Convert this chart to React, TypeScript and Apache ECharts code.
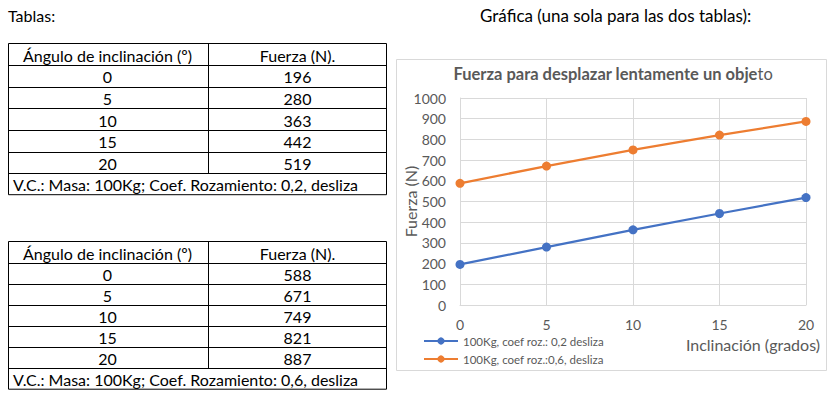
import React, { useEffect, useRef } from "react";
import * as echarts from "echarts";

const angles = [0, 5, 10, 15, 20];
const fuerza02 = [196, 280, 363, 442, 519];
const fuerza06 = [588, 671, 749, 821, 887];
const seriesNames = ["100Kg, coef roz.: 0,2 desliza", "100Kg, coef roz.:0,6, desliza"];
const tableHeader = ["Ángulo de inclinación (º)", "Fuerza (N)."];
const footer02 = "V.C.: Masa: 100Kg; Coef. Rozamiento: 0,2, desliza";
const footer06 = "V.C.: Masa: 100Kg; Coef. Rozamiento: 0,6, desliza";

const FONT = "Lato, 'Open Sans', sans-serif";
const GRAY = "#595959";

function buildTable(top: number, rowH: number, values: number[], footer: string) {
  const left = 8.5, right = 386.5, mid = 208.5;
  const nRows = values.length + 2;
  const bottom = top + rowH * nRows;
  const els: any[] = [];
  els.push({
    type: "rect",
    shape: { x: left, y: top, width: right - left, height: bottom - top },
    style: { fill: "none", stroke: "#000", lineWidth: 1 },
  });
  for (let i = 1; i < nRows; i++) {
    const y = Math.round(top + rowH * i) + 0.5;
    els.push({ type: "line", shape: { x1: left, y1: y, x2: right, y2: y }, style: { stroke: "#000", lineWidth: 1 } });
  }
  els.push({
    type: "line",
    shape: { x1: mid, y1: top, x2: mid, y2: Math.round(top + rowH * (nRows - 1)) + 0.5 },
    style: { stroke: "#000", lineWidth: 1 },
  });
  const rows: string[][] = [tableHeader, ...values.map((v, i) => [String(angles[i]), String(v)])];
  rows.forEach((r, i) => {
    const cy = top + rowH * i + rowH / 2 + 1;
    els.push({ type: "text", x: (left + mid) / 2 - 1, y: cy, style: { text: r[0], font: `16px ${FONT}`, fill: "#000", textAlign: "center", textVerticalAlign: "middle" } });
    els.push({ type: "text", x: (mid + right) / 2, y: cy, style: { text: r[1], font: `16px ${FONT}`, fill: "#000", textAlign: "center", textVerticalAlign: "middle" } });
  });
  els.push({
    type: "text",
    x: 13,
    y: top + rowH * (nRows - 1) + rowH / 2 + 1,
    style: { text: footer, font: `16px ${FONT}`, fill: "#000", textAlign: "left", textVerticalAlign: "middle" },
  });
  return els;
}

export default function App() {
  const ref = useRef<HTMLDivElement>(null);
  useEffect(() => {
    if (!ref.current) return;
    const chart = echarts.init(ref.current, undefined, { renderer: "svg" });
    const graphics: any[] = [
      { type: "text", x: 8, y: 15, style: { text: "Tablas:", font: `16px ${FONT}`, fill: "#000", textAlign: "left", textVerticalAlign: "middle" } },
      { type: "text", x: 480, y: 15, style: { text: "Gráfica (una sola para las dos tablas):", font: `17px ${FONT}`, fill: "#000", textAlign: "left", textVerticalAlign: "middle" } },
      ...buildTable(43.5, 21.6, fuerza02, footer02),
      ...buildTable(241.5, 21.1, fuerza06, footer06),
      {
        type: "rect",
        z: -1,
        shape: { x: 396.5, y: 59.5, width: 430, height: 311 },
        style: { fill: "#fff", stroke: "#d9d9d9", lineWidth: 1 },
      },
      {
        type: "text",
        x: 613,
        y: 74,
        style: {
          text: "{b|Fuerza para desplazar lentamente un obje}{n|to}",
          textAlign: "center",
          textVerticalAlign: "middle",
          rich: {
            b: { fontFamily: FONT, fontSize: 16.5, fontWeight: "bold", fill: GRAY, color: GRAY },
            n: { fontFamily: FONT, fontSize: 16.5, fontWeight: "normal", fill: GRAY, color: GRAY },
          },
        },
      },
      {
        type: "text",
        x: 820,
        y: 344,
        style: { text: "Inclinación (grados)", font: `16px ${FONT}`, fill: GRAY, textAlign: "right", textVerticalAlign: "middle" },
      },
    ];
    chart.setOption({
      animation: false,
      backgroundColor: "#fff",
      grid: { left: 460, top: 98, width: 346, height: 207, containLabel: false },
      xAxis: {
        type: "value",
        min: 0,
        max: 20,
        interval: 5,
        axisLine: { show: true, lineStyle: { color: "#d9d9d9" } },
        axisTick: { show: false },
        splitLine: { show: true, lineStyle: { color: "#d9d9d9" } },
        axisLabel: { color: GRAY, fontSize: 14, fontFamily: FONT, margin: 12 },
      },
      yAxis: {
        type: "value",
        min: 0,
        max: 1000,
        interval: 100,
        name: "Fuerza (N)",
        nameLocation: "middle",
        nameGap: 42,
        nameMoveOverlap: false,
        nameTextStyle: { color: GRAY, fontSize: 16, fontFamily: FONT },
        axisLine: { show: true, lineStyle: { color: "#d9d9d9" } },
        axisTick: { show: false },
        splitLine: { show: true, lineStyle: { color: "#d9d9d9" } },
        axisLabel: { color: GRAY, fontSize: 14, fontFamily: FONT, margin: 14, formatter: (v: number) => String(v) },
      },
      legend: {
        orient: "vertical",
        left: 418,
        top: 330,
        itemWidth: 34,
        itemHeight: 9,
        itemGap: 6,
        textStyle: { color: GRAY, fontSize: 11.5, fontFamily: FONT },
        data: seriesNames,
      },
      series: [
        {
          name: seriesNames[0],
          type: "line",
          data: angles.map((a, i) => [a, fuerza02[i]]),
          symbol: "circle",
          symbolSize: 9,
          lineStyle: { width: 2.25, color: "#4472C4" },
          itemStyle: { color: "#4472C4" },
        },
        {
          name: seriesNames[1],
          type: "line",
          data: angles.map((a, i) => [a, fuerza06[i]]),
          symbol: "circle",
          symbolSize: 9,
          lineStyle: { width: 2.25, color: "#ED7D31" },
          itemStyle: { color: "#ED7D31" },
        },
      ],
      graphic: graphics,
    });
    return () => chart.dispose();
  }, []);
  return (
    <div
      ref={ref}
      style={{ position: "fixed", left: 0, top: 0, width: 830, height: 398, background: "#fff" }}
    />
  );
}
